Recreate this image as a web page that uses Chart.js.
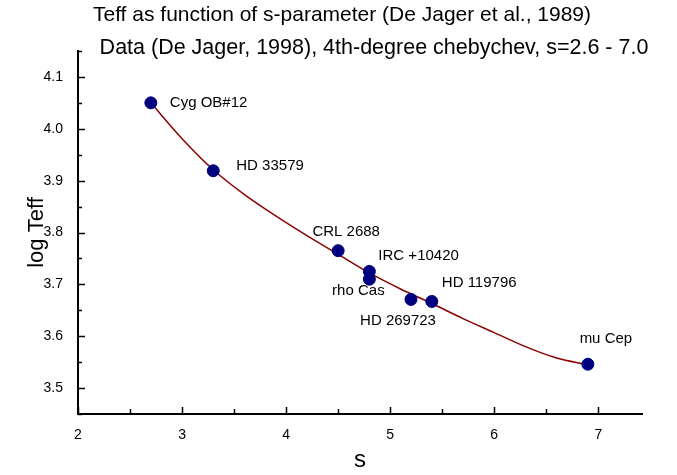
<!DOCTYPE html>
<html>
<head>
<meta charset="utf-8">
<script src="https://cdn.jsdelivr.net/npm/chart.js@4"></script>
<style>
  html, body { margin: 0; padding: 0; background: #fff; }
</style>
</head>
<body>
<canvas id="chart" width="677" height="475"></canvas>
<script>
// Stars (De Jager, 1998)
var starNames = ['Cyg OB#12', 'HD 33579', 'CRL 2688', 'IRC +10420', 'rho Cas', 'HD 269723', 'HD 119796', 'mu Cep'];
var starS = [2.7, 3.3, 4.5, 4.8, 4.8, 5.2, 5.4, 6.9];
var starLogTeff = [4.050, 3.919, 3.765, 3.725, 3.710, 3.671, 3.667, 3.546];

// 4th-degree chebychev fit
var fitS = [2.7, 3.0, 3.3, 3.6, 3.9, 4.2, 4.5, 4.8, 5.1, 5.4, 5.7, 6.0, 6.3, 6.6, 6.9];
var fitLogTeff = [4.050, 3.981, 3.921, 3.873, 3.832, 3.794, 3.758, 3.722, 3.691, 3.663, 3.634, 3.607, 3.580, 3.558, 3.545];

// axis ticks
var xTicks = [2, 3, 4, 5, 6, 7];
var yTicks = [3.5, 3.6, 3.7, 3.8, 3.9, 4.0, 4.1];

// label placement relative to each point (same order as starNames)
var labelPos = [
    { dx: 19, dy: 0, align: 'left' },
    { dx: 23, dy: -5, align: 'left' },
    { dx: 8, dy: -19, align: 'center' },
    { dx: 9, dy: -16, align: 'left' },
    { dx: -11, dy: 12, align: 'center' },
    { dx: -13, dy: 21, align: 'center' },
    { dx: 10, dy: -19, align: 'left' },
    { dx: 18, dy: -25, align: 'center' }
];

var font = '"Liberation Sans", Arial, Helvetica, sans-serif';
var colors = {
    star: '#00007f',
    fit: '#8b0000',
    axis: '#000000',
    text: '#000000'
};

var starPoints = starS.map(function (s, i) { return { x: s, y: starLogTeff[i] }; });
var fitPoints = fitS.map(function (s, i) { return { x: s, y: fitLogTeff[i] }; });

// inward tick marks, major + minor
var tickMarks = {
    id: 'tickMarks',
    afterDraw: function (chart) {
        var ctx = chart.ctx;
        var xs = chart.scales.x, ys = chart.scales.y;
        var area = chart.chartArea;
        ctx.save();
        ctx.strokeStyle = colors.axis;
        ctx.lineWidth = 1.5;
        ctx.beginPath();
        for (var v = 2; v <= xs.max + 1e-9; v += 0.5) {
            var px = Math.round(xs.getPixelForValue(v)) + 0.5;
            var len = Math.abs(v - Math.round(v)) < 1e-6 ? 7 : 5;
            ctx.moveTo(px, area.bottom);
            ctx.lineTo(px, area.bottom - len);
        }
        for (var k = 0; k <= 14; k++) {
            var val = 3.45 + k * 0.05;
            var py = Math.round(ys.getPixelForValue(val)) + 0.5;
            var major = k % 2 === 1;
            ctx.moveTo(area.left, py);
            ctx.lineTo(area.left + (major ? 7 : 4), py);
        }
        ctx.stroke();
        ctx.restore();
    }
};

// star names next to points + titles
var annotations = {
    id: 'annotations',
    afterDatasetsDraw: function (chart) {
        var ctx = chart.ctx;
        var meta = chart.getDatasetMeta(0);
        ctx.save();
        ctx.fillStyle = colors.text;
        ctx.textBaseline = 'middle';
        ctx.font = '15px ' + font;
        meta.data.forEach(function (pt, i) {
            var p = labelPos[i];
            ctx.textAlign = p.align;
            ctx.fillText(starNames[i], pt.x + p.dx, pt.y + p.dy);
        });

        ctx.textAlign = 'center';
        ctx.font = '21px ' + font;
        ctx.fillText('Teff as function of s-parameter (De Jager et al., 1989)', 342, 15);
        ctx.font = '21.5px ' + font;
        ctx.fillText('Data (De Jager, 1998), 4th-degree chebychev, s=2.6 - 7.0', 374, 48);
        ctx.restore();
    }
};

new Chart(document.getElementById('chart'), {
    type: 'scatter',
    data: {
        datasets: [{
            label: 'stars',
            data: starPoints,
            backgroundColor: colors.star,
            borderColor: colors.star,
            pointRadius: 6,
            pointHoverRadius: 6
        }, {
            label: 'fit',
            data: fitPoints,
            showLine: true,
            borderColor: colors.fit,
            borderWidth: 1.5,
            pointRadius: 0,
            cubicInterpolationMode: 'monotone'
        }]
    },
    options: {
        responsive: false,
        animation: false,
        layout: {
            padding: { top: 51, right: 35, left: 0, bottom: 0 }
        },
        scales: {
            x: {
                type: 'linear',
                min: 2,
                max: 7.42,
                afterFit: function (scale) { scale.height = 61; },
                afterBuildTicks: function (scale) {
                    scale.ticks = xTicks.map(function (v) { return { value: v }; });
                },
                ticks: {
                    padding: 13,
                    color: colors.text,
                    font: { family: font, size: 14 },
                    callback: function (v) { return String(v); }
                },
                grid: { display: true, drawOnChartArea: false, drawTicks: false },
                border: { display: true, color: colors.axis, width: 2 },
                title: {
                    display: true,
                    text: 's',
                    color: colors.text,
                    font: { family: font, size: 24 },
                    padding: { top: 0, bottom: 0 }
                }
            },
            y: {
                type: 'linear',
                min: 3.45,
                max: 4.15,
                afterFit: function (scale) { scale.width = 78; },
                afterBuildTicks: function (scale) {
                    scale.ticks = yTicks.map(function (v) { return { value: v }; });
                },
                ticks: {
                    padding: 15,
                    color: colors.text,
                    font: { family: font, size: 14 },
                    callback: function (v) { return v.toFixed(1); }
                },
                grid: { display: true, drawOnChartArea: false, drawTicks: false },
                border: { display: true, color: colors.axis, width: 2 },
                title: {
                    display: true,
                    text: 'log Teff',
                    color: colors.text,
                    font: { family: font, size: 22 },
                    padding: { top: 24, bottom: 0 }
                }
            }
        },
        plugins: {
            legend: { display: false },
            tooltip: { enabled: false }
        }
    },
    plugins: [tickMarks, annotations]
});
</script>
</body>
</html>
